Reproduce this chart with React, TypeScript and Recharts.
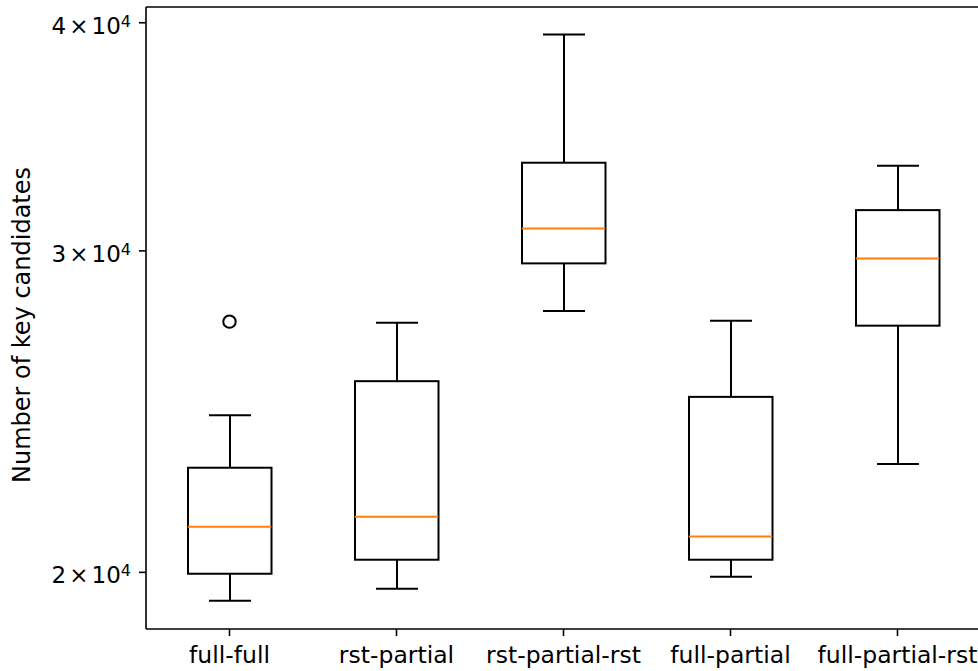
import { Bar, ComposedChart, Scatter, XAxis, YAxis } from 'recharts'

const categories = ['full-full', 'rst-partial', 'rst-partial-rst', 'full-partial', 'full-partial-rst']
const whiskerLow = [19297, 19592, 27810, 19889, 22928]
const quartile1 = [19965, 20321, 29530, 20321, 27299]
const medians = [21184, 21456, 30862, 20922, 29717]
const quartile3 = [22821, 25453, 33527, 24954, 31582]
const whiskerHigh = [24380, 27403, 39416, 27472, 33400]
const outliers = [27438, null, null, null, null]
const yTicks = [20000, 30000, 40000]
const yDomain = [18621, 40803]

const data = categories.map((name, i) => ({
  name,
  whisker: [whiskerLow[i], whiskerHigh[i]],
  box: [quartile1[i], quartile3[i]],
  median: medians[i],
  outlier: outliers[i],
}))

const FONT = '"DejaVu Sans", sans-serif'
const BOX_W = 83.5
const CAP_W = 42

const WhiskerShape = (props: any) => {
  const { x, y, width, height } = props
  const cx = x + width / 2
  return (
    <g stroke="#000" strokeWidth={2} fill="none">
      <line x1={cx} x2={cx} y1={y} y2={y + height} />
      <line x1={x} x2={x + width} y1={y} y2={y} />
      <line x1={x} x2={x + width} y1={y + height} y2={y + height} />
    </g>
  )
}

const BoxShape = (props: any) => {
  const { x, y, width, height } = props
  return <rect x={x} y={y} width={width} height={height} fill="#fff" stroke="#000" strokeWidth={2} />
}

const MedianShape = (props: any) => {
  const { cx, cy } = props
  if (!Number.isFinite(cx) || !Number.isFinite(cy)) return <g />
  return <line x1={cx - BOX_W / 2} x2={cx + BOX_W / 2} y1={cy} y2={cy} stroke="#ff7f0e" strokeWidth={2} />
}

const OutlierShape = (props: any) => {
  const { cx, cy, payload } = props
  if (payload?.outlier == null || !Number.isFinite(cy)) return <g />
  return <circle cx={cx} cy={cy} r={6.2} fill="none" stroke="#000" strokeWidth={2} />
}

const YTick = (props: any) => {
  const { x, y, payload } = props
  return (
    <text x={x} y={y} dy={11} textAnchor="end" fontFamily={FONT} fontSize={23} fill="#000">
      {payload.value / 10000}
      <tspan dx={3}>×</tspan>
      <tspan dx={3}>10</tspan>
      <tspan dy={-7} fontSize={16}>4</tspan>
    </text>
  )
}

const XTick = (props: any) => {
  const { x, y, payload } = props
  return (
    <text x={x} y={y} dy={25} textAnchor="middle" fontFamily={FONT} fontSize={23.5} fill="#000">
      {payload.value}
    </text>
  )
}

export default function App() {
  return (
    <div style={{ position: 'absolute', left: 0, top: 0, width: 978, height: 671, overflow: 'hidden', background: '#fff' }}>
      <ComposedChart
        width={981}
        height={671}
        data={data}
        margin={{ top: 6, right: 0, left: 0, bottom: 0 }}
      >
        <XAxis xAxisId="aux" dataKey="name" height={0} hide />
        <XAxis
          xAxisId="main"
          dataKey="name"
          height={42}
          tick={<XTick />}
          tickSize={7}
          tickMargin={2}
          tickLine={{ stroke: '#000', strokeWidth: 1.6 }}
          axisLine={{ stroke: '#000', strokeWidth: 1.6 }}
          interval={0}
        />
        <XAxis
          xAxisId="top"
          dataKey="name"
          orientation="top"
          height={1}
          tick={false}
          tickLine={false}
          axisLine={{ stroke: '#000', strokeWidth: 1.6 }}
        />
        <YAxis
          scale="log"
          type="number"
          domain={yDomain}
          allowDataOverflow
          ticks={yTicks}
          width={146}
          tick={<YTick />}
          tickSize={7}
          tickMargin={8}
          tickLine={{ stroke: '#000', strokeWidth: 1.6 }}
          axisLine={{ stroke: '#000', strokeWidth: 1.6 }}
          label={{
            content: () => (
              <text
                transform="translate(30, 325) rotate(-90)"
                textAnchor="middle"
                fontFamily={FONT}
                fontSize={24}
                fill="#000"
              >
                Number of key candidates
              </text>
            ),
          }}
        />
        <Bar xAxisId="main" dataKey="whisker" barSize={CAP_W} shape={<WhiskerShape />} isAnimationActive={false} />
        <Bar xAxisId="aux" dataKey="box" barSize={BOX_W} shape={<BoxShape />} isAnimationActive={false} />
        <Scatter xAxisId="main" dataKey="median" shape={<MedianShape />} isAnimationActive={false} />
        <Scatter xAxisId="main" dataKey="outlier" shape={<OutlierShape />} isAnimationActive={false} />
      </ComposedChart>
    </div>
  )
}
